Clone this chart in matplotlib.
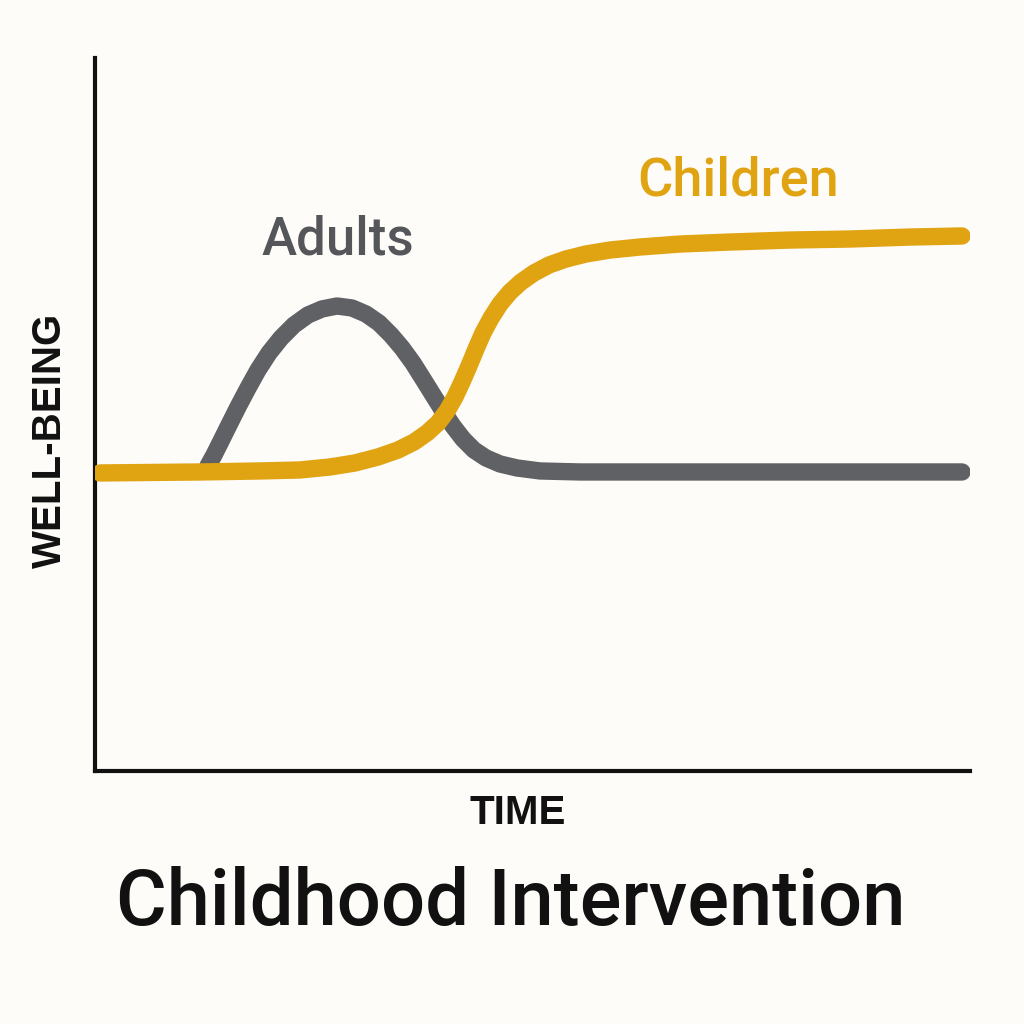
import matplotlib.pyplot as plt
import numpy as np

# values (time 0-100, well-being 0-100)
children_t = [0.57, 12.0, 18.86, 23.43, 26.86, 29.71, 32.34, 34.63, 36.46, 37.94,
              39.2, 40.23, 41.14, 41.94, 42.74, 43.54, 44.34, 45.26, 46.29, 47.43,
              48.69, 50.17, 51.89, 53.83, 56.11, 58.86, 62.29, 66.86, 72.57, 79.43,
              86.29, 93.14, 99.09]
children_w = [41.80, 41.94, 42.08, 42.22, 42.64, 43.20, 44.04, 45.02, 46.14, 47.41,
              48.81, 50.49, 52.45, 54.56, 56.80, 59.19, 61.43, 63.53, 65.50, 67.18,
              68.58, 69.85, 70.97, 71.81, 72.51, 73.07, 73.49, 73.91, 74.19, 74.47,
              74.61, 74.89, 75.04]

adults_t = [12.91, 13.6, 14.4, 15.31, 16.34, 17.49, 18.63, 19.89, 21.26, 22.74,
            24.34, 25.94, 27.66, 29.37, 30.97, 32.46, 33.83, 35.09, 36.34, 37.49,
            38.63, 39.77, 40.91, 42.06, 43.31, 44.69, 46.29, 48.23, 50.86, 55.43,
            69.14, 86.29, 99.09]
adults_w = [42.78, 44.32, 46.28, 48.53, 51.05, 53.72, 56.24, 58.63, 60.73, 62.55,
            63.96, 64.80, 65.22, 64.94, 64.10, 62.83, 61.15, 59.33, 57.22, 54.98,
            52.73, 50.49, 48.39, 46.56, 45.02, 43.90, 43.06, 42.50, 42.08, 41.94,
            41.94, 41.94, 41.94]

gold = '#E0A312'
grey = '#606165'
bg = '#FDFCF8'

plt.rcParams['font.family'] = ['Roboto', 'DejaVu Sans']

fig = plt.figure(figsize=(10.24, 10.24), dpi=100, facecolor=bg)
ax = fig.add_axes([95/1024, 253/1024, 875/1024, 713/1024])
ax.set_facecolor(bg)
ax.set_xlim(0, 100)
ax.set_ylim(0, 100)

ax.plot(adults_t, adults_w, color=grey, lw=12.5, solid_capstyle='round',
        solid_joinstyle='round', zorder=2)
ax.plot(children_t, children_w, color=gold, lw=12.5, solid_capstyle='round',
        solid_joinstyle='round', zorder=3)

for s in ['top', 'right']:
    ax.spines[s].set_visible(False)
for s in ['left', 'bottom']:
    ax.spines[s].set_linewidth(3)
    ax.spines[s].set_color('#111111')
ax.set_xticks([])
ax.set_yticks([])

ax.text(73.5, 82.8, 'Children', color=gold, fontsize=39, fontweight='medium',
        ha='center', va='center')
ax.text(27.8, 74.5, 'Adults', color='#55565A', fontsize=38, fontweight='medium',
        ha='center', va='center')

fig.text(50/1024, 1 - 440/1024, 'WELL-BEING', rotation=90, fontsize=29,
         fontweight='bold', family=['Liberation Sans', 'DejaVu Sans'],
         ha='center', va='center', color='#111111')
fig.text(518/1024, 1 - 813/1024, 'TIME', fontsize=29, fontweight='bold',
         family=['Liberation Sans', 'DejaVu Sans'],
         ha='center', va='center', color='#111111')
fig.text(511/1024, 1 - 903/1024, 'Childhood Intervention', fontsize=56,
         fontweight='medium', ha='center', va='center', color='#111111')

fig.savefig('out.png', dpi=100, facecolor=bg)
